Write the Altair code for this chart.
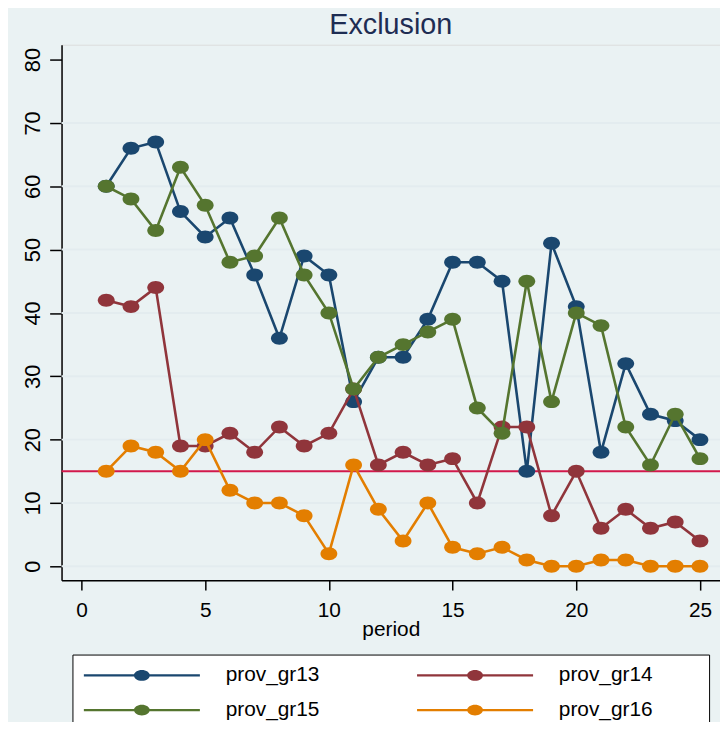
import altair as alt
import pandas as pd

# ---- data ----
periods = list(range(1, 26))
prov_gr13 = [60, 66, 67, 56, 52, 55, 46, 36, 49, 46, 26, 33, 33, 39, 48, 48, 45, 15, 51, 41, 18, 32, 24, 23, 20]
prov_gr14 = [42, 41, 44, 19, 19, 21, 18, 22, 19, 21, 28, 16, 18, 16, 17, 10, 22, 22, 8, 15, 6, 9, 6, 7, 4]
prov_gr15 = [60, 58, 53, 63, 57, 48, 49, 55, 46, 40, 28, 33, 35, 37, 39, 25, 21, 45, 26, 40, 38, 22, 16, 24, 17]
prov_gr16 = [15, 19, 18, 15, 20, 12, 10, 10, 8, 2, 16, 9, 4, 10, 3, 2, 3, 1, 0, 0, 1, 1, 0, 0, 0]
series_names = ["prov_gr13", "prov_gr14", "prov_gr15", "prov_gr16"]
series_values = [prov_gr13, prov_gr14, prov_gr15, prov_gr16]
series_colors = ["#1a476f", "#90353b", "#55752f", "#e37e00"]
reference_value = [15]
y_ticks = [0, 10, 20, 30, 40, 50, 60, 70, 80]
grid_values = [0, 10, 20, 30, 40, 50, 60, 70]
x_ticks = [0, 5, 10, 15, 20, 25]
title_text = "Exclusion"
x_title = "period"

rows = []
for name, vals in zip(series_names, series_values):
    for p, v in zip(periods, vals):
        rows.append({"period": p, "value": v, "series": name})
df = pd.DataFrame(rows)
grid_df = pd.DataFrame({"value": grid_values})
ref_df = pd.DataFrame({"value": reference_value})

FONT = "Liberation Sans"
BG = "#eaf2f3"

xscale = alt.Scale(domain=[-0.806, 25.81], nice=False, zero=False)
yscale = alt.Scale(domain=[-2.19, 82.35], nice=False, zero=False)

xaxis = alt.Axis(values=x_ticks, grid=False, tickSize=10, tickWidth=1.5, tickColor="black",
                 domainColor="black", domainWidth=1.5, labelFontSize=21, labelFont=FONT,
                 labelColor="black", labelPadding=9.4, labelFlush=False, labelOverlap=False,
                 title=x_title, titleFontSize=21, titleFont=FONT, titleFontWeight="normal",
                 titleColor="black", titleY=56, titleBaseline="alphabetic")
yaxis = alt.Axis(values=y_ticks, grid=False, tickSize=12, tickWidth=1.5, tickColor="black",
                 domainColor="black", domainWidth=1.5, labelFontSize=22, labelFont=FONT,
                 labelColor="black", labelAngle=270, labelAlign="center",
                 labelBaseline="alphabetic", labelPadding=10, labelFlush=False,
                 labelOverlap=False, title=None)

X = alt.X("period:Q", scale=xscale, axis=xaxis)
Y = alt.Y("value:Q", scale=yscale, axis=yaxis)

POINT_PATH = "M1,0A1,0.77 0 1 1 -1,0A1,0.77 0 1 1 1,0Z"
LEGEND_PATH = ("M-1,-0.02H1V0.02H-1Z"
               "M0.1368,0A0.1368,0.094 0 1 1 -0.1368,0A0.1368,0.094 0 1 1 0.1368,0Z")

# non-breaking spaces closed by a zero-width space, so they survive trimming and widen the box
legend = alt.Legend(title=None, orient="none", legendX=11, legendY=615, padding=10,
                    direction="horizontal",
                    columns=2, columnPadding=50, rowPadding=13, clipHeight=22,
                    symbolType=LEGEND_PATH, symbolSize=13689, symbolStrokeWidth=0,
                    symbolOpacity=1, symbolOffset=1.5, labelOffset=26, labelFont=FONT,
                    labelFontSize=21, labelColor="black", labelLimit=400,
                    labelBaseline="middle",
                    labelExpr="datum.label + '\u00a0\u00a0\u00a0\u00a0\u00a0\u00a0\u00a0\u00a0\u200b'",
                    fillColor="white", strokeColor="black")
cscale = alt.Scale(domain=series_names, range=series_colors)

grid = alt.Chart(grid_df).mark_rule(color="#e3ecef", strokeWidth=2).encode(y=Y)
ref = alt.Chart(ref_df).mark_rule(color="#d2194b", strokeWidth=2).encode(y=Y)

layers = [grid, ref]
for name, col in zip(series_names, series_colors):
    base = alt.Chart(df).transform_filter(alt.datum.series == name)
    layers.append(base.mark_line(color=col, strokeWidth=2.6).encode(x=X, y=Y))
    layers.append(base.mark_point(filled=True, shape=POINT_PATH, size=289, opacity=1).encode(
        x=X, y=Y, color=alt.Color("series:N", scale=cscale, legend=legend)))

chart = alt.layer(*layers).properties(
    width=664, height=540,
    title=alt.TitleParams(title_text, fontSize=29, font=FONT, fontWeight="normal",
                          color="#1e2d53", anchor="middle", frame="group",
                          baseline="bottom", offset=-24),
    autosize=alt.AutoSizeParams(type="none"),
    padding={"left": 54, "top": 34, "right": 0, "bottom": 140},
    background=BG,
).configure_view(fill="white", strokeWidth=0).configure(font=FONT)

chart.save("out.html", embed_options={"renderer": "svg", "actions": False})
